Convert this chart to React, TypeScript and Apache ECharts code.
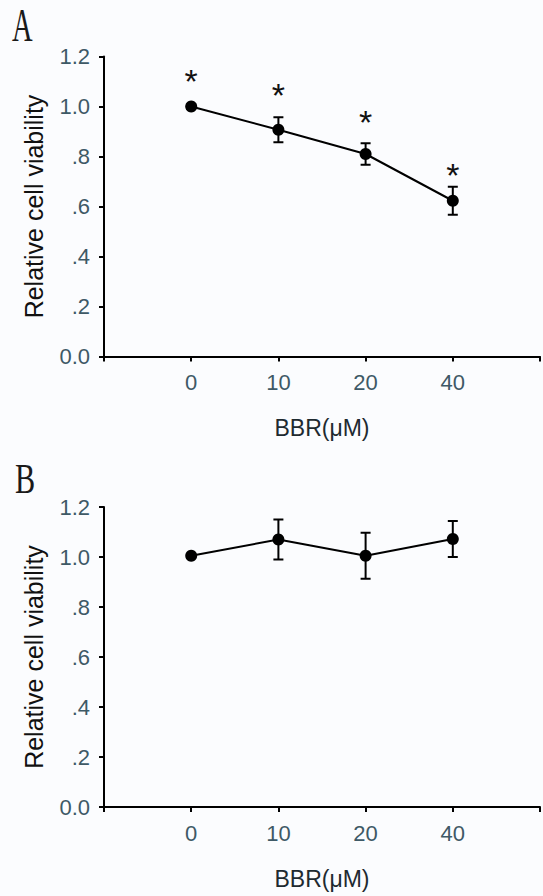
import React, { useEffect, useRef } from "react";
import * as echarts from "echarts";

// ---- data ----
const categories = ["0", "10", "20", "40"]; // BBR (µM)
const viabilityA = [1.0, 0.907, 0.81, 0.623];
const errorA = [0.008, 0.05, 0.043, 0.056];
const starA = [1.13, 1.075, 0.965, 0.755]; // significance marker heights (data units)
const viabilityB = [1.005, 1.07, 1.005, 1.072];
const errorB = [0.005, 0.08, 0.092, 0.072];
const yTickLabels = ["0.0", ".2", ".4", ".6", ".8", "1.0", "1.2"];
const panelLabels = ["A", "B"];

const TICK_COLOR = "#3e5966";
const NARROW = '"Liberation Sans Narrow", "Arial Narrow", "Liberation Sans", Arial, sans-serif';
const SANS = '"Liberation Sans", Arial, sans-serif';

function errorBarItem(params: any, api: any) {
  const x = api.value(0);
  const m = api.value(1);
  const e = api.value(2);
  const top = api.coord([x, m + e]);
  const bot = api.coord([x, m - e]);
  const half = 5;
  const style = { stroke: "#000", lineWidth: 2 };
  return {
    type: "group",
    children: [
      { type: "line", shape: { x1: top[0], y1: top[1], x2: bot[0], y2: bot[1] }, style },
      { type: "line", shape: { x1: top[0] - half, y1: top[1], x2: top[0] + half, y2: top[1] }, style },
      { type: "line", shape: { x1: bot[0] - half, y1: bot[1], x2: bot[0] + half, y2: bot[1] }, style },
    ],
  };
}

function starItem(params: any, api: any) {
  const p = api.coord([api.value(0), api.value(1)]);
  return {
    type: "text",
    x: p[0],
    y: p[1] + 7,
    style: {
      text: "*",
      font: `34px ${SANS}`,
      fill: "#111",
      align: "center",
      verticalAlign: "middle",
    },
  };
}

export default function App() {
  const ref = useRef<HTMLDivElement>(null);
  useEffect(() => {
    document.body.style.margin = "0";
    if (!ref.current) return;
    const chart = echarts.init(ref.current, null, { renderer: "svg" });

    const grids = [
      { left: 104, top: 56.5, width: 440, height: 300 },
      { left: 104, top: 507, width: 440, height: 300 },
    ];

    const xAxes = grids.map((_, i) => ({
      type: "value",
      gridIndex: i,
      min: 0,
      max: 5,
      interval: 1,
      name: "BBR(μM)",
      nameLocation: "middle",
      nameGap: 60,
      nameTextStyle: { fontFamily: SANS, fontSize: 23, color: "#1e2a30" },
      axisLine: { show: true, lineStyle: { color: "#000", width: 2 } },
      axisTick: { show: true, inside: false, length: 5, lineStyle: { color: "#000", width: 2 } },
      axisLabel: {
        margin: 15,
        fontFamily: NARROW,
        fontSize: 22,
        color: TICK_COLOR,
        showMinLabel: true,
        showMaxLabel: true,
        formatter: (v: number) => categories[Math.round(v) - 1] ?? "",
      },
      splitLine: { show: false },
    }));

    const yAxes = grids.map((_, i) => ({
      type: "value",
      gridIndex: i,
      min: 0,
      max: 1.2,
      interval: 0.2,
      name: "Relative cell viability",
      nameLocation: "middle",
      nameGap: 58,
      nameTextStyle: { fontFamily: SANS, fontSize: 25, color: "#111" },
      axisLine: { show: true, lineStyle: { color: "#000", width: 2 } },
      axisTick: { show: true, inside: false, length: 5, lineStyle: { color: "#000", width: 2 } },
      axisLabel: {
        margin: 14,
        fontFamily: NARROW,
        fontSize: 22,
        color: TICK_COLOR,
        formatter: (v: number) => yTickLabels[Math.round(v / 0.2)] ?? "",
      },
      splitLine: { show: false },
    }));

    const mk = (vals: number[]) => vals.map((v, i) => [i + 1, v]);
    const mkErr = (vals: number[], errs: number[]) => vals.map((v, i) => [i + 1, v, errs[i]]);

    const series: any[] = [];
    [
      { vals: viabilityA, errs: errorA },
      { vals: viabilityB, errs: errorB },
    ].forEach((d, i) => {
      series.push({
        type: "custom",
        xAxisIndex: i,
        yAxisIndex: i,
        renderItem: errorBarItem,
        data: mkErr(d.vals, d.errs),
        z: 2,
        silent: true,
      });
      series.push({
        type: "line",
        xAxisIndex: i,
        yAxisIndex: i,
        data: mk(d.vals),
        symbol: "circle",
        symbolSize: 12,
        showSymbol: true,
        lineStyle: { color: "#000", width: 2 },
        itemStyle: { color: "#000" },
        z: 3,
      });
    });
    series.push({
      type: "custom",
      xAxisIndex: 0,
      yAxisIndex: 0,
      renderItem: starItem,
      data: mk(starA),
      z: 4,
      silent: true,
    });

    chart.setOption({
      animation: false,
      backgroundColor: "#fbfcfe",
      grid: grids,
      xAxis: xAxes,
      yAxis: yAxes,
      series,
      graphic: [
        {
          type: "text",
          x: 12,
          y: 2,
          scaleX: 0.62,
          style: { text: panelLabels[0], font: '46px "Liberation Serif", "Times New Roman", serif', fill: "#1a1a1a" },
        },
        {
          type: "text",
          x: 15,
          y: 458,
          scaleX: 0.72,
          style: { text: panelLabels[1], font: '42px "Liberation Serif", "Times New Roman", serif', fill: "#1a1a1a" },
        },
      ],
    });
    return () => chart.dispose();
  }, []);
  return <div ref={ref} style={{ width: 543, height: 896 }} />;
}
